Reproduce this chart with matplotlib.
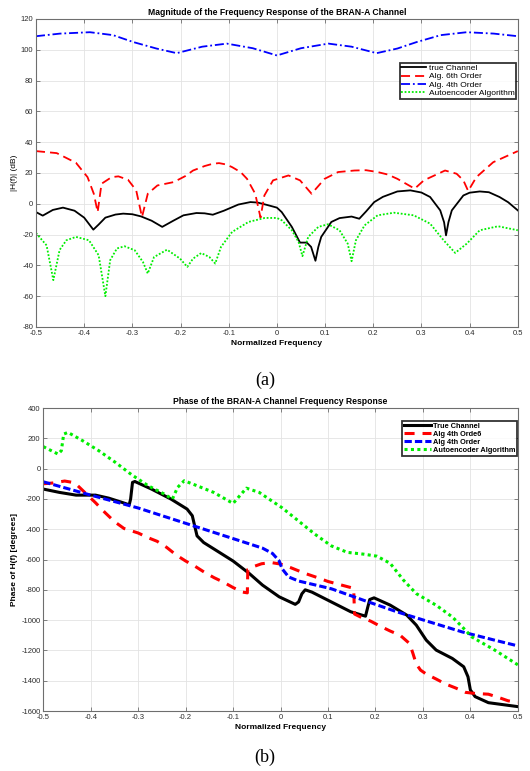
import matplotlib
matplotlib.use("Agg")
import matplotlib.pyplot as plt

# ---------------- data: magnitude (top) ----------------
true_mag_f = [-0.5,-0.486,-0.465,-0.444,-0.42,-0.4,-0.381,-0.37,-0.356,-0.335,-0.319,-0.3,-0.282,-0.26,-0.238,
              -0.215,-0.194,-0.167,-0.15,-0.133,-0.11,-0.08,-0.055,-0.04,-0.02,0.0,0.01,0.031,0.048,0.062,0.071,
              0.08,0.086,0.092,0.113,0.13,0.155,0.171,0.185,0.202,0.22,0.25,0.277,0.3,0.318,0.339,0.347,0.351,
              0.356,0.363,0.387,0.40,0.421,0.44,0.462,0.48,0.5]
true_mag_db = [-5.4,-7.7,-4,-2.5,-4.5,-9,-16.8,-13.5,-9,-7,-6.4,-6.8,-8.2,-11,-15,
               -11,-7.5,-6,-6.2,-7.1,-4.5,-0.5,1.1,0.8,-0.8,-2.5,-5.4,-15,-25.2,-25.2,-28,
               -37,-28,-21.5,-11.8,-9.3,-8.3,-9.7,-5,1.1,4.5,8,8.7,7.3,4.4,-4.3,-12,-20.5,
               -12,-4.3,5.4,7.2,8,7.5,4.4,1,-4.3]

alg6_mag_f = [-0.5,-0.457,-0.417,-0.393,-0.38,-0.372,-0.364,-0.343,-0.329,-0.309,-0.292,-0.28,-0.268,-0.248,
              -0.214,-0.19,-0.174,-0.15,-0.133,-0.12,-0.105,-0.093,-0.075,-0.062,-0.045,-0.034,-0.026,-0.008,
              0.024,0.048,0.072,0.099,0.127,0.161,0.185,0.209,0.23,0.25,0.286,0.305,0.349,0.373,0.387,0.397,
              0.414,0.449,0.5]
alg6_mag_db = [34.2,32.9,26.6,17.3,6.5,-5.4,13,17.3,17.8,15.6,8.7,-8.6,6.5,11.9,
               14.1,18,21.6,24.5,26,26.4,25.5,23.8,20.5,16.2,6.5,-9,5.4,15.2,
               18.4,15.2,6.5,16.2,20.6,21.6,21.8,20.6,19,16.2,9.8,15.2,21.6,19.5,15.2,8.3,
               17.3,27,34.2]

alg4_mag_f = [-0.5,-0.45,-0.388,-0.34,-0.298,-0.25,-0.208,-0.155,-0.104,-0.05,0,0.05,0.107,0.155,0.207,
              0.25,0.29,0.34,0.394,0.45,0.5]
alg4_mag_db = [108.8,110.5,111.4,109.5,105,100.8,97.8,102,104,101,96.3,101,104,102,97.8,
               100.8,105,109.5,111.4,110.5,108.8]

ae_mag_f = [-0.5,-0.478,-0.464,-0.451,-0.437,-0.417,-0.39,-0.37,-0.356,-0.346,-0.332,-0.316,-0.295,-0.278,
            -0.268,-0.255,-0.228,-0.201,-0.186,-0.174,-0.157,-0.14,-0.128,-0.116,-0.093,-0.059,-0.025,0.0,
            0.01,0.031,0.045,0.053,0.065,0.086,0.106,0.13,0.147,0.155,0.164,0.182,0.209,0.243,0.284,0.318,
            0.346,0.37,0.394,0.421,0.459,0.5]
ae_mag_db = [-19,-27,-49.6,-30,-23.7,-21.5,-23.7,-33.4,-60,-36.6,-29,-27.6,-30.2,-37.8,
             -45.3,-34.6,-29.8,-35.6,-41,-35.6,-32,-34.6,-38.8,-28,-18.3,-11.8,-9.2,-9.2,
             -10.7,-17.2,-24.8,-34,-21.5,-15,-13.3,-17.2,-25.9,-37.3,-23.7,-14,-7.5,-5.8,-7.5,-12.9,
             -23.7,-31.9,-25.9,-17.2,-14.6,-17.2]

# ---------------- data: phase (bottom) ----------------
true_ph_f = [-0.5,-0.466,-0.431,-0.39,-0.362,-0.334,-0.319,-0.316,-0.312,-0.307,-0.272,-0.231,-0.197,-0.186,
             -0.181,-0.176,-0.162,-0.134,-0.1,-0.066,-0.038,-0.003,0.031,0.038,0.045,0.052,0.066,0.107,
             0.148,0.179,0.184,0.188,0.197,0.231,0.266,0.286,0.307,0.328,0.362,0.386,0.395,0.4,0.41,0.438,0.5]
true_ph_deg = [-135,-157,-175,-175,-195,-223,-239,-201,-91,-85,-135,-201,-267,-311,
               -378,-444,-488,-543,-610,-692,-769,-846,-896,-880,-826,-800,-815,-880,
               -945,-974,-912,-864,-853,-901,-967,-1033,-1132,-1198,-1253,-1308,-1374,-1461,-1505,-1545,-1571]

alg6_ph_f = [-0.5,-0.48,-0.455,-0.44,-0.43,-0.41,-0.39,-0.37,-0.35,-0.33,-0.30,-0.28,-0.26,-0.24,-0.22,
             -0.20,-0.18,-0.16,-0.14,-0.12,-0.10,-0.08,-0.07,-0.069,-0.06,-0.04,-0.02,0.0,0.02,0.05,0.08,
             0.10,0.13,0.154,0.156,0.172,0.19,0.21,0.231,0.252,0.272,0.279,0.286,0.295,0.307,0.328,0.348,
             0.369,0.39,0.41,0.438,0.459,0.479,0.5]
alg6_ph_deg = [-100,-95,-82,-90,-105,-165,-225,-290,-350,-395,-425,-455,-480,-520,-570,
               -610,-645,-685,-720,-750,-785,-815,-820,-665,-650,-628,-620,-630,-652,-690,-722,
               -745,-770,-790,-960,-985,-1007,-1040,-1072,-1100,-1155,-1220,-1290,-1330,-1356,-1389,-1422,
               -1448,-1477,-1484,-1489,-1510,-1532,-1545]

alg4_ph_f = [-0.5,-0.4,-0.3,-0.203,-0.1,-0.038,-0.017,-0.003,0.003,0.017,0.038,0.107,0.176,0.245,0.314,
             0.383,0.452,0.5]
alg4_ph_deg = [-87,-175,-260,-358,-462,-525,-560,-609,-660,-715,-742,-793,-870,-945,-1012,
               -1078,-1133,-1170]

ae_ph_f = [-0.5,-0.469,-0.462,-0.457,-0.448,-0.417,-0.383,-0.348,-0.314,-0.279,-0.245,-0.228,-0.217,-0.203,
           -0.176,-0.141,-0.1,-0.086,-0.072,-0.045,-0.02,0.003,0.038,0.072,0.107,0.141,0.176,0.203,0.231,
           0.259,0.286,0.328,0.362,0.383,0.403,0.452,0.5]
ae_ph_deg = [145,96,118,228,239,184,118,41,-40,-113,-168,-201,-124,-80,
             -113,-157,-230,-179,-129,-157,-210,-258,-346,-432,-510,-553,-565,-578,-625,
             -736,-825,-902,-979,-1045,-1111,-1199,-1295]

x_ticks = [-0.5,-0.4,-0.3,-0.2,-0.1,0,0.1,0.2,0.3,0.4,0.5]
x_tick_labels = ['-0.5','-0.4','-0.3','-0.2','-0.1','0','0.1','0.2','0.3','0.4','0.5']
mag_ticks = [-80,-60,-40,-20,0,20,40,60,80,100,120]
ph_ticks = [-1600,-1400,-1200,-1000,-800,-600,-400,-200,0,200,400]

plt.rcParams['font.family'] = ['Liberation Sans', 'DejaVu Sans']
plt.rcParams['axes.unicode_minus'] = False

fig = plt.figure(figsize=(5.30, 7.71), dpi=100)

def style_axes(ax):
    for s in ax.spines.values():
        s.set_color('#6e6e6e')
        s.set_linewidth(0.8)
    ax.tick_params(direction='in', length=3, width=0.6, colors='#6e6e6e',
                   labelcolor='#2b2b2b', labelsize=5.5, top=True, right=True, pad=2)
    ax.grid(True, color='#e3e3e3', linewidth=0.6)
    ax.set_axisbelow(True)
    ax.set_xticks(x_ticks)
    ax.set_xticklabels(x_tick_labels)
    ax.set_xlim(-0.5, 0.5)

# ---- top ----
ax1 = fig.add_axes([0.0679, 0.5759, 0.9091, 0.3995])
style_axes(ax1)
ax1.plot(true_mag_f, true_mag_db, color='black', lw=1.3, label='true Channel')
ax1.plot(alg6_mag_f, alg6_mag_db, color='red', lw=1.3, linestyle=(0, (5, 2.8)), label='Alg. 6th Order')
ax1.plot(alg4_mag_f, alg4_mag_db, color='blue', lw=1.3, linestyle=(0, (5, 1.6, 1, 1.6)), label='Alg. 4th Order')
ax1.plot(ae_mag_f, ae_mag_db, color='#00ee00', lw=1.3, linestyle=(0, (1, 1)), label='Autoencoder Algorithm')
ax1.set_ylim(-80, 120)
ax1.set_yticks(mag_ticks)
ax1.set_yticklabels([str(v) for v in mag_ticks])
ax1.set_title('Magnitude of the Frequency Response of the BRAN-A Channel', fontsize=6.2,
              fontweight='bold', pad=3)
ax1.set_xlabel('Normalized Frequency', fontsize=6, fontweight='bold', labelpad=2)
ax1.set_ylabel('|H(f)| (dB)', fontsize=6, labelpad=2)
leg1 = ax1.legend(loc='upper right', bbox_to_anchor=(0.997, 0.858), fontsize=6.0, frameon=True,
                  fancybox=False, edgecolor='black', handlelength=3.0, handletextpad=0.3,
                  borderpad=0.2, labelspacing=0.05, borderaxespad=0)
leg1.get_frame().set_linewidth(1.3)

# ---- bottom ----
ax2 = fig.add_axes([0.0817, 0.0778, 0.8953, 0.3930])
style_axes(ax2)
ax2.plot(true_ph_f, true_ph_deg, color='black', lw=2.2, label='True Channel')
ax2.plot(alg6_ph_f, alg6_ph_deg, color='red', lw=2.2, linestyle=(0, (3.3, 2.6)), label='Alg 4th Orde6')
ax2.plot(alg4_ph_f, alg4_ph_deg, color='blue', lw=2.2, linestyle=(0, (2.4, 1.0)), label='Alg 4th Order')
ax2.plot(ae_ph_f, ae_ph_deg, color='#00ee00', lw=2.2, linestyle=(0, (1, 1.1)), label='Autoencoder Algorithm')
ax2.set_ylim(-1600, 400)
ax2.set_yticks(ph_ticks)
ax2.set_yticklabels([str(v) for v in ph_ticks])
ax2.set_title('Phase of the BRAN-A Channel Frequency Response', fontsize=6.2, fontweight='bold', pad=3)
ax2.set_xlabel('Normalized Frequency', fontsize=6, fontweight='bold', labelpad=2)
ax2.set_ylabel('Phase of H(f) [degrees]', fontsize=6, fontweight='bold', labelpad=2)
leg2 = ax2.legend(loc='upper right', bbox_to_anchor=(0.999, 0.957), frameon=True,
                  fancybox=False, edgecolor='black', handlelength=3.6, handletextpad=0.3,
                  borderpad=0.25, labelspacing=0.1, borderaxespad=0,
                  prop={'weight': 'bold', 'size': 5.3})
leg2.get_frame().set_linewidth(1.3)

fig.text(0.5, 1 - 380 / 771, '(a)', ha='center', va='center', fontsize=13, family='Liberation Serif')
fig.text(0.5, 1 - 757 / 771, '(b)', ha='center', va='center', fontsize=13, family='Liberation Serif')

fig.savefig('out.png', dpi=100)
